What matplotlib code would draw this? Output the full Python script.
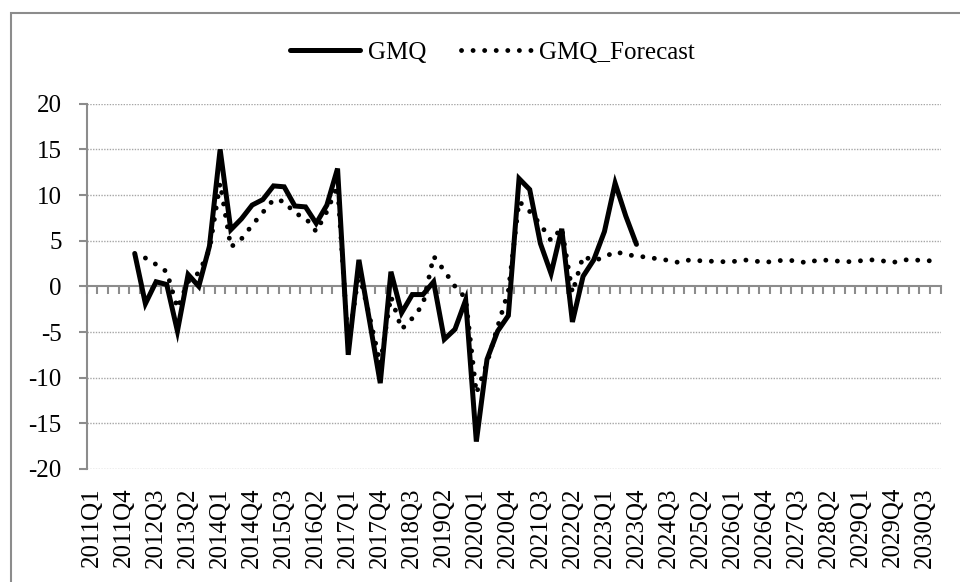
import numpy as np
import matplotlib
matplotlib.use('Agg')
import matplotlib.pyplot as plt
from matplotlib.patches import Rectangle

plt.rcParams['font.family'] = ['Liberation Serif', 'DejaVu Serif']

# quarters 2011Q1 .. 2030Q4
quarters = [f'{y}Q{q}' for y in range(2011, 2031) for q in range(1, 5)]

# GMQ actual, 2012Q1 .. 2023Q4
gmq_start = '2012Q1'
gmq = [3.6, -1.9, 0.5, 0.2, -4.9, 1.3, 0.0, 4.4, 15.0, 6.2, 7.4, 8.9,
       9.5, 11.0, 10.9, 8.8, 8.7, 6.9, 8.9, 12.9, -7.5, 2.9, -3.8, -10.6,
       1.6, -2.9, -0.9, -0.9, 0.5, -5.8, -4.7, -1.5, -17.0, -8.0, -4.9, -3.2,
       11.8, 10.6, 4.7, 1.4, 6.3, -3.9, 1.1, 2.9, 6.0, 11.3, 7.7, 4.6]

# GMQ forecast, 2012Q2 .. 2030Q4
fc_start = '2012Q2'
gmq_forecast = [3.1, 2.4, 1.6, -2.4, 0.5, 1.5, 4.0, 11.3, 4.3, 5.2, 6.7,
                8.1, 9.5, 9.3, 8.0, 7.5, 6.0, 8.2, 11.0, -6.5, 1.5, -3.3, -8.5,
                -1.1, -4.7, -3.5, -2.0, 3.3, 1.7, 0.0, -1.3, -11.7, -8.4, -4.4, -0.5,
                9.3, 8.2, 6.8, 5.0, 6.4, -0.7, 3.3, 2.8, 3.2, 3.8, 3.5, 3.3,
                3.2, 3.0, 2.85, 2.6, 2.9, 2.8, 2.75, 2.7, 2.7, 2.9, 2.8, 2.6,
                2.8, 2.85, 2.8, 2.55, 2.9, 2.85, 2.75, 2.7, 2.8, 2.9, 2.8, 2.6,
                2.9, 2.9, 2.8, 2.8]

yticks = [-20, -15, -10, -5, 0, 5, 10, 15, 20]

fs = 18
grey = '#8c8c8c'

fig = plt.figure(figsize=(9.6, 5.82), dpi=100)
ax = fig.add_axes([0.0903, 0.1942, 0.8896, 0.6276])

x_gmq = np.arange(len(gmq)) + quarters.index(gmq_start)
x_fc = np.arange(len(gmq_forecast)) + quarters.index(fc_start)

ax.plot(x_gmq, gmq, color='black', lw=3.6, solid_joinstyle='miter',
        solid_capstyle='round', label='GMQ', zorder=3)
ax.plot(x_fc, gmq_forecast, color='black', lw=3.5,
        linestyle=(0, (0.01, 2.37)), dash_capstyle='round',
        label='GMQ_Forecast', zorder=4)

ax.set_xlim(-0.5, len(quarters) - 0.5)
ax.set_ylim(-20, 20)

# horizontal dotted gridlines
for yv in yticks:
    if yv != 0:
        ax.axhline(yv, color='#a6a6a6', lw=1.0, linestyle=(0, (1, 1)), zorder=1)

for s in ['top', 'right']:
    ax.spines[s].set_visible(False)
ax.spines['left'].set_color(grey)
ax.spines['left'].set_linewidth(1.5)
ax.spines['bottom'].set_position(('data', 0))
ax.spines['bottom'].set_color(grey)
ax.spines['bottom'].set_linewidth(1.5)

ax.set_yticks(yticks)
ax.set_yticklabels([str(v) for v in yticks])
ax.tick_params(axis='y', direction='out', length=6, width=1.5, color=grey,
               labelsize=fs, pad=12)

# category boundary ticks on the zero line
ax.set_xticks(np.arange(len(quarters) + 1) - 0.5)
ax.tick_params(axis='x', direction='out', length=5.5, width=1.5, color=grey,
               labelbottom=False)

# labels at the bottom of the plot area
sec = ax.secondary_xaxis(0.0)
lab_idx = np.arange(0, len(quarters), 3)
sec.set_xticks(lab_idx)
sec.set_xticklabels([quarters[i] for i in lab_idx], rotation=90)
sec.tick_params(length=0, labelsize=fs, pad=13)
sec.spines['bottom'].set_visible(False)

fig.legend(loc='center', bbox_to_anchor=(0.513, 0.91), ncol=2, frameon=False,
           fontsize=fs, handlelength=2.8, handletextpad=0.3, columnspacing=1.4)

fig.add_artist(Rectangle((0.011, -0.1), 1.2, 1.0777, transform=fig.transFigure,
                         fill=False, ec=grey, lw=1.5))

fig.savefig('out.png', dpi=100)
